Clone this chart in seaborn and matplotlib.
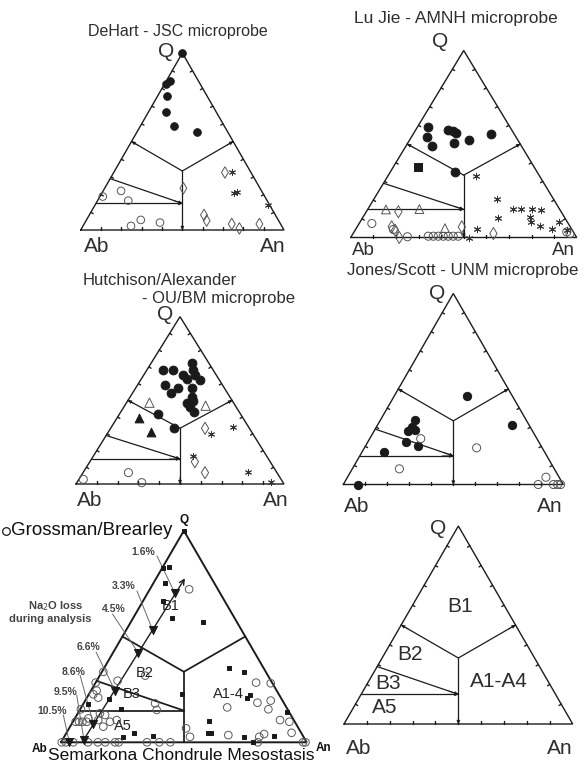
import numpy as np
import pandas as pd
import matplotlib
matplotlib.use("Agg")
import matplotlib.pyplot as plt
import seaborn as sns

sns.set_theme(style="white")
plt.rcParams['font.family'] = ['Liberation Sans', 'DejaVu Sans']

# ---------------- data (ternary percentages: Q and An; Ab = 100 - Q - An) ----------------
# Panel 1: DeHart - JSC microprobe
DEH_SOLID_Q = [100, 84.0, 82.6, 75.5, 66.4, 58.9, 55.1]
DEH_SOLID_AN = [0, 1.9, 0.7, 4.6, 8.8, 16.5, 29.8]
DEH_OPEN_Q = [18.9, 22.1, 16.6, 5.7, 2.3, 4.2]
DEH_OPEN_AN = [1.4, 8.8, 15.1, 26.7, 23.6, 36.9]
DEH_DIAM_Q = [23.6, 32.5, 8.5, 5.3, 3.4, 0.9, 3.4]
DEH_DIAM_AN = [38.7, 54.7, 56.4, 59.3, 72.6, 77.6, 86.2]
DEH_STAR_Q = [33.0, 21.1, 21.7, 14.2]
DEH_STAR_AN = [57.8, 64.9, 66.2, 85.2]

# Panel 2: Lu Jie - AMNH microprobe
LUJ_SOLID_Q = [58.9, 53.9, 48.9, 57.5, 57.0, 56.1, 50.7, 52.1, 55.2, 35.2]
LUJ_SOLID_AN = [4.9, 7.0, 11.7, 14.5, 16.6, 18.6, 20.4, 26.1, 34.3, 28.6]
LUJ_SQUARE_Q = [37.9]
LUJ_SQUARE_AN = [11.0]
LUJ_TRI_Q = [15.0, 15.2, 5.0]
LUJ_TRI_AN = [8.1, 22.8, 39.2]
LUJ_OPEN_Q = [7.5, 4.3, 0.4, 0.7, 0.7, 0.7, 0.7, 0.7, 0.7, 0.7, 3.0, 2.1]
LUJ_OPEN_AN = [5.6, 16.7, 24.9, 34.0, 36.2, 38.4, 40.6, 42.8, 45.0, 47.2, 94.1, 96.0]
LUJ_DIAM_Q = [13.8, 5.7, 3.9, 0.0, 5.7, 2.1]
LUJ_DIAM_AN = [14.2, 15.3, 17.7, 21.5, 46.3, 62.1]
LUJ_STAR_Q = [33.0, 20.5, 15.0, 15.5, 15.0, 14.6, 10.2, 11.1, 8.4, 6.1, 4.3, 8.4, 3.9, 4.3, 0.0]
LUJ_STAR_AN = [39.0, 54.3, 64.5, 67.5, 72.6, 76.8, 60.2, 73.8, 75.4, 80.7, 86.8, 88.1, 93.9, 53.6, 52.5]

# Panel 3: Hutchison/Alexander - OU/BM microprobe
HUT_SOLID_Q = [68.1, 68.1, 72.1, 68.1, 65.1, 65.1, 62.5, 62.2, 59.2, 57.2, 54.2, 57.2, 51.8,
               49.8, 48.6, 46.2, 43.2, 41.8, 33.3]
HUT_SOLID_AN = [8.0, 12.5, 19.6, 22.4, 19.1, 24.7, 22.0, 28.5, 13.2, 20.6, 18.6, 27.0, 29.7,
                31.5, 29.2, 31.7, 35.1, 18.4, 30.5]
HUT_SOLIDTRI_Q = [39.2, 31.3]
HUT_SOLIDTRI_AN = [10.7, 20.2]
HUT_TRI_Q = [48.6, 46.8]
HUT_TRI_AN = [11.0, 38.9]
HUT_OPEN_Q = [2.8, 6.8, 0.8]
HUT_OPEN_AN = [2.1, 21.8, 31.2]
HUT_DIAM_Q = [33.3, 13.3, 6.8]
HUT_DIAM_AN = [45.4, 50.5, 58.6]
HUT_STAR_Q = [34.3, 29.9, 16.7, 7.4, 1.4]
HUT_STAR_AN = [58.1, 49.8, 48.0, 79.2, 92.9]

# Panel 4: Jones/Scott - UNM microprobe
JON_SOLID_Q = [46.2, 30.9, 33.6, 30.1, 28.0, 28.3, 22.2, 19.9, 16.8, 0.0]
JON_SOLID_AN = [33.0, 61.1, 15.8, 16.0, 15.5, 18.4, 17.4, 23.8, 10.2, 6.8]
JON_OPEN_Q = [24.0, 19.2, 8.2, 3.8, 0, 0, 0, 0]
JON_OPEN_AN = [23.2, 51.0, 21.4, 90.2, 88.6, 95.5, 97.4, 98.8]

# Panel 5: Grossman/Brearley - Semarkona chondrule mesostasis
GRO_SQUARE_Q = [100, 82.2, 83.0, 75.1, 66.7, 58.9, 56.7, 18.1, 20.3, 15.7, 4.5, 2.4, 3.0, 22.7,
                35.0, 33.3, 22.3, 20.8, 14.5, 10.1, 4.5, 4.3, 2.4, 0.3, 3.0]
GRO_SQUARE_AN = [0, 0.5, 2.6, 4.8, 8.3, 15.6, 29.3, 2.1, 9.4, 16.6, 27.5, 24.2, 36.1, 37.8,
                 51.0, 57.8, 65.8, 65.2, 84.9, 55.3, 58.7, 57.8, 73.3, 77.9, 85.2]
GRO_OPEN_Q = [72.3,
              33.3, 28.2, 24.4, 22.7, 21.1, 29.1, 31.5, 18.4, 15.3,
              15.6, 11.3, 9.7, 9.7, 9.7, 9.7, 13.7, 10.5, 12.9, 7.4, 9.7, 10.5,
              28.2, 27.9, 18.7, 19.7, 15.6, 16.5, 10.5, 9.7, 4.5, 3.4, 2.6, 3.9, 6.6, 2.6,
              0, 0, 0, 0, 0, 0, 0, 0, 0, 0, 0, 0, 0, 0]
GRO_OPEN_AN = [16.0,
               0.6, 0.0, 2.3, 1.8, 4.6, 8.5, 18.5, 29.1, 31.3,
               0.3, 5.5, 1.1, 2.5, 3.9, 5.6, 9.0, 9.9, 11.5, 13.5, 15.1, 17.4,
               65.3, 71.4, 70.6, 75.5, 76.6, 59.4, 83.9, 88.1, 91.6, 66.4, 79.4, 80.7, 47.6, 51.2,
               0.3, 2, 5, 11, 15, 18, 22, 23.5, 35, 40, 44.5, 80.1, 98.5, 99.5]
NA_LOSS_LABELS = ["1.6%", "3.3%", "4.5%", "6.6%", "8.6%", "9.5%", "10.5%"]
NA_LOSS_Q = [70.4, 53.0, 42.3, 24.4, 8.6, 1.1, 0.0]
NA_LOSS_AN = [11.2, 10.8, 10.3, 9.8, 8.9, 8.8, 3.4]
NA_TREND_Q = [0.0, 77.5]
NA_TREND_AN = [8.6, 11.7]

# Field boundaries (ternary Q, An)
FIELD_CENTER = (100 / 3, 100 / 3)
FIELD_LEFT = (50, 0)
FIELD_RIGHT = (50, 50)
FIELD_BASE = (0, 50)
B3_LEFT = (29, 0)
A5_LEFT = (15, 0)
JUNCTION = (15, 42.5)

# ---------------- figure ----------------
W, H = 585, 766
fig = plt.figure(figsize=(W / 100, H / 100), dpi=100)
fig.patch.set_facecolor("white")
INK = "#1c1c1c"
TXT = "#2e2e2e"


def tern(q, an):
    q = np.asarray(q, dtype=float) / 100.0
    an = np.asarray(an, dtype=float) / 100.0
    return an + q / 2.0, q


def add_panel(x0, yb, w, h):
    ax = fig.add_axes([x0 / W, 1 - yb / H, w / W, h / H])
    ax.geom = (x0, yb, w, h)
    return ax


def pix2ax(ax, px, py):
    x0, yb, w, h = ax.geom
    return (px - x0) / w, (yb - py) / h


def ftxt(px, py, s, **kw):
    kw.setdefault("ha", "center")
    kw.setdefault("va", "center")
    kw.setdefault("color", TXT)
    fig.text(px / W, 1 - py / H, s, **kw)


def frame(ax, lw=1.0, ticks=True, arrows=True):
    ax.plot([0, 1, 0.5, 0], [0, 0, 1, 0], color=INK, lw=lw, solid_joinstyle="miter",
            clip_on=False, zorder=2)
    segs = [(FIELD_LEFT, FIELD_CENTER), (FIELD_RIGHT, FIELD_CENTER), (FIELD_CENTER, FIELD_BASE),
            (B3_LEFT, JUNCTION), (A5_LEFT, JUNCTION)]
    for a, b in segs:
        xa, ya = tern(*a)
        xb, yb_ = tern(*b)
        ax.plot([xa, xb], [ya, yb_], color=INK, lw=lw * 0.9, clip_on=False, zorder=2)
    if arrows:
        for a, b in [(FIELD_CENTER, FIELD_LEFT), (FIELD_CENTER, FIELD_RIGHT),
                     (FIELD_CENTER, FIELD_BASE), (B3_LEFT, JUNCTION), (A5_LEFT, JUNCTION)]:
            xa, ya = tern(*a)
            xb, yb_ = tern(*b)
            xs, ys = xb + (xa - xb) * 0.12, yb_ + (ya - yb_) * 0.12
            ax.annotate("", xy=(xb, yb_), xytext=(xs, ys),
                        arrowprops=dict(arrowstyle="-|>", color=INK, lw=0.6,
                                        mutation_scale=5, shrinkA=0, shrinkB=0))
    if ticks:
        _, _, w, h = ax.geom
        L = 2.6
        for i in range(1, 10):
            t = i / 10
            ax.plot([t, t], [0, L / h], color=INK, lw=1.0, clip_on=False)
            ax.plot([t / 2, t / 2 + 0.866 * L / w], [t, t - 0.5 * L / h], color=INK, lw=1.0,
                    clip_on=False)
            ax.plot([1 - t / 2, 1 - t / 2 - 0.866 * L / w], [t, t - 0.5 * L / h], color=INK,
                    lw=1.0, clip_on=False)
    ax.set_xlim(0, 1)
    ax.set_ylim(0, 1)
    ax.axis("off")


def pts(ax, q, an, marker, s, filled=True, color="k", lw=0.7):
    x, y = tern(q, an)
    df = pd.DataFrame({"x": x, "y": y})
    if marker in ("star",):
        sns.scatterplot(data=df, x="x", y="y", ax=ax, marker=(6, 2, 0), s=s, color=color,
                        linewidth=lw, clip_on=False, legend=False, zorder=4)
    elif filled:
        sns.scatterplot(data=df, x="x", y="y", ax=ax, marker=marker, s=s, color=color,
                        edgecolor=color, linewidth=lw, clip_on=False, legend=False, zorder=4)
    else:
        sns.scatterplot(data=df, x="x", y="y", ax=ax, marker=marker, s=s, facecolor="none",
                        edgecolor=color, linewidth=lw, clip_on=False, legend=False, zorder=4)
    ax.set_xlim(0, 1)
    ax.set_ylim(0, 1)


OPEN = "#555555"

# ---- Panel 1
ax1 = add_panel(80.7, 230, 203.3, 177)
frame(ax1)
pts(ax1, DEH_SOLID_Q, DEH_SOLID_AN, "o", 30)
pts(ax1, DEH_OPEN_Q, DEH_OPEN_AN, "o", 30, filled=False, color=OPEN, lw=0.7)
pts(ax1, DEH_DIAM_Q, DEH_DIAM_AN, "d", 34, filled=False, color=OPEN, lw=0.7)
pts(ax1, DEH_STAR_Q, DEH_STAR_AN, "star", 20, color="#333333", lw=0.7)
ftxt(178.3, 31.7, "DeHart - JSC microprobe", fontsize=11.5)
ftxt(165.7, 51.7, "Q", fontsize=15)
ftxt(96.7, 246.7, "Ab", fontsize=15)
ftxt(273, 246.7, "An", fontsize=15)

# ---- Panel 2
ax2 = add_panel(350.7, 237.5, 226, 187)
frame(ax2)
pts(ax2, LUJ_SOLID_Q, LUJ_SOLID_AN, "o", 40)
pts(ax2, LUJ_SQUARE_Q, LUJ_SQUARE_AN, "s", 28)
pts(ax2, LUJ_TRI_Q, LUJ_TRI_AN, "^", 40, filled=False, color=OPEN, lw=0.7)
pts(ax2, LUJ_OPEN_Q, LUJ_OPEN_AN, "o", 34, filled=False, color=OPEN, lw=0.7)
pts(ax2, LUJ_DIAM_Q, LUJ_DIAM_AN, "d", 38, filled=False, color=OPEN, lw=0.7)
pts(ax2, LUJ_STAR_Q, LUJ_STAR_AN, "star", 22, color="#333333", lw=0.7)
ftxt(456, 18.3, "Lu Jie - AMNH microprobe", fontsize=12.5)
ftxt(440, 41.7, "Q", fontsize=15)
ftxt(363.3, 250.3, "Ab", fontsize=13.5)
ftxt(563.3, 250.3, "An", fontsize=13.5)

# ---- Panel 3
ax3 = add_panel(76, 484, 208, 167.3)
frame(ax3)
pts(ax3, HUT_SOLID_Q, HUT_SOLID_AN, "o", 40)
pts(ax3, HUT_SOLIDTRI_Q, HUT_SOLIDTRI_AN, "^", 40)
pts(ax3, HUT_TRI_Q, HUT_TRI_AN, "^", 45, filled=False, color=OPEN, lw=0.7)
pts(ax3, HUT_OPEN_Q, HUT_OPEN_AN, "o", 34, filled=False, color=OPEN, lw=0.7)
pts(ax3, HUT_DIAM_Q, HUT_DIAM_AN, "d", 38, filled=False, color=OPEN, lw=0.7)
pts(ax3, HUT_STAR_Q, HUT_STAR_AN, "star", 20, color="#333333", lw=0.7)
ftxt(83, 280, "Hutchison/Alexander", fontsize=12, ha="left")
ftxt(141.7, 298.3, "- OU/BM microprobe", fontsize=12, ha="left")
ftxt(165, 315, "Q", fontsize=15)
ftxt(90, 500, "Ab", fontsize=15)
ftxt(276, 500, "An", fontsize=15)

# ---- Panel 4
ax4 = add_panel(343.3, 484.5, 220, 191)
frame(ax4)
pts(ax4, JON_SOLID_Q, JON_SOLID_AN, "o", 36)
pts(ax4, JON_OPEN_Q, JON_OPEN_AN, "o", 34, filled=False, color=OPEN, lw=0.7)
ftxt(463, 270, "Jones/Scott - UNM microprobe", fontsize=12.2)
ftxt(436.7, 293.3, "Q", fontsize=15)
ftxt(356.7, 506.7, "Ab", fontsize=15)
ftxt(549.3, 506.7, "An", fontsize=15)

# ---- Panel 6 (field names)
ax6 = add_panel(344, 724, 228.7, 198)
frame(ax6)
ftxt(438.3, 528.3, "Q", fontsize=15)
ftxt(358.3, 748.3, "Ab", fontsize=15)
ftxt(560, 748.3, "An", fontsize=15)
for lab, px, py in [("B1", 460, 606.7), ("B2", 410, 654), ("B3", 388.3, 683.3),
                    ("A5", 385, 707.3), ("A1-A4", 499.3, 681.7)]:
    ftxt(px, py, lab, fontsize=15)

# ---- Panel 5 (Grossman/Brearley)
ax5 = add_panel(61, 742.3, 245.7, 211.6)
frame(ax5, lw=1.4, ticks=False, arrows=False)
pts(ax5, GRO_OPEN_Q, GRO_OPEN_AN, "o", 30, filled=False, color="#5a5a5a", lw=0.7)
pts(ax5, GRO_SQUARE_Q, GRO_SQUARE_AN, "s", 11)
# Na2O loss trend
tx, ty = tern(NA_TREND_Q, NA_TREND_AN)
ax5.annotate("", xy=(tx[1], ty[1]), xytext=(tx[0], ty[0]),
             arrowprops=dict(arrowstyle="->", color=INK, lw=1.0, mutation_scale=9,
                             shrinkA=0, shrinkB=0))
pts(ax5, NA_LOSS_Q, NA_LOSS_AN, "v", 34)
leader_start = [(157, 556), (137, 591), (112.5, 614), (96, 652), (80, 675), (76.7, 695), (63.3, 715)]
label_pos = [(143, 552), (124, 586), (114, 608.5), (88.5, 647), (73.3, 672), (66, 692), (52, 711)]
lx, ly = tern(NA_LOSS_Q, NA_LOSS_AN)
for lab, (sx, sy), (px, py), ex, ey in zip(NA_LOSS_LABELS, leader_start, label_pos, lx, ly):
    ax_sx, ax_sy = pix2ax(ax5, sx, sy)
    ax5.plot([ax_sx, ex], [ax_sy, ey], color="#6a6a6a", lw=0.7, clip_on=False, zorder=3)
    ftxt(px, py, lab, fontsize=7.5, fontweight="bold", color="#444444")
ftxt(56, 606, "Na$_2$O loss", fontsize=8, fontweight="bold", color="#444444")
ftxt(50, 619, "during analysis", fontsize=8, fontweight="bold", color="#444444")
for lab, px, py in [("B1", 170.7, 606), ("B2", 145, 673), ("B3", 131.7, 694),
                    ("A5", 123.3, 725.7), ("A1-4", 228.3, 694)]:
    ftxt(px, py, lab, fontsize=10.5, color="#222222")
lgx, lgy = pix2ax(ax5, 5.5, 531)
ax5.plot([lgx], [lgy], marker="o", ms=5.5, mfc="none", mec="k", mew=0.9, clip_on=False)
ftxt(11, 530.5, "Grossman/Brearley", fontsize=13.5, ha="left", color="#111111")
ftxt(184, 519.5, "Q", fontsize=8.5, fontweight="bold", color="#111111")
ftxt(40, 749, "Ab", fontsize=8.5, fontweight="bold", color="#111111")
ftxt(324, 748, "An", fontsize=8.5, fontweight="bold", color="#111111")
ftxt(181.5, 756, "Semarkona Chondrule Mesostasis", fontsize=12.5, color="#111111")

fig.savefig("out.png", dpi=100, facecolor="white")
